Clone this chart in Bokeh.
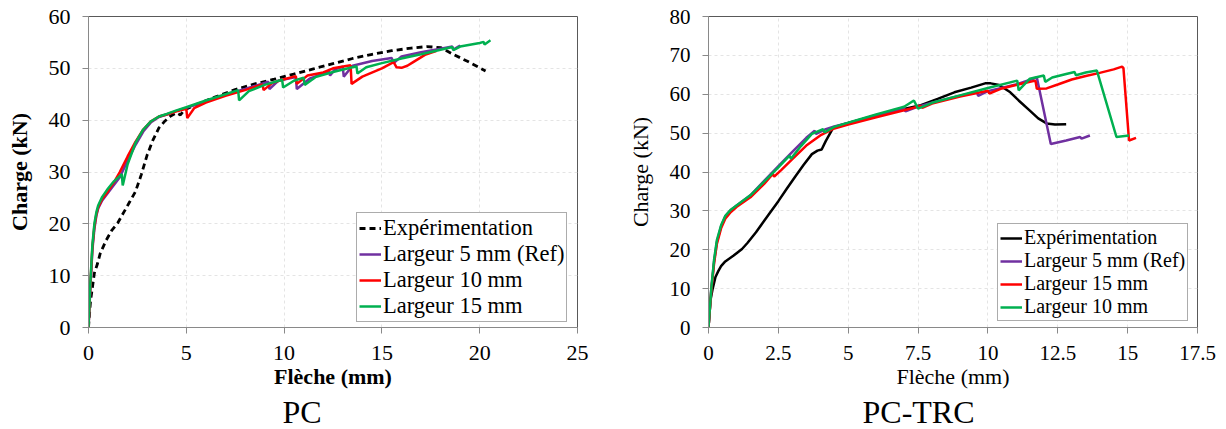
from bokeh.plotting import figure
from bokeh.models import Legend, LegendItem, Title, FixedTicker, Range1d, NumeralTickFormatter
from bokeh.layouts import row
from bokeh.embed import file_html
from bokeh.resources import INLINE

FONT = "Liberation Serif"

# ---------------- PC (left) ----------------
pc_xticks = [0, 5, 10, 15, 20, 25]
pc_yticks = [0, 10, 20, 30, 40, 50, 60]

pc_exp_x = [0, 0.1, 0.3, 0.45, 0.6, 0.9, 1.2, 1.5, 1.8, 2.1, 2.4, 2.7, 3.0, 3.3, 3.6, 3.9, 4.2, 4.5, 4.7, 4.9,
            5.5, 6.5, 7.5, 8.5, 9.5, 10.5, 11.5, 12.5, 13.5, 14.5, 15.5, 16.5, 17.3, 18.0, 18.6, 19.4, 20.3]
pc_exp_y = [0, 5, 10.5, 12.2, 14.3, 16.8, 18.8, 20.2, 22.2, 24.2, 26.2, 29.5, 33.3, 36.2, 38.5, 39.8, 40.8, 41.4, 41.0, 42.0,
            43.0, 44.5, 45.9, 47.0, 47.9, 48.9, 49.9, 50.9, 51.9, 52.7, 53.4, 53.9, 54.2, 54.0, 52.8, 51.3, 49.5]

pc_w5_x = [0, 0.1, 0.2, 0.3, 0.4, 0.5, 0.7, 1.0, 1.3, 1.6, 2.0, 2.4, 2.8, 3.2, 3.6, 4.0, 4.5, 5.0, 6.0, 7.0, 8.0,
           9.2, 9.25, 9.7, 10.6, 10.65, 11.3, 12.3, 12.35, 12.6, 13.0, 13.05, 13.5, 14.5, 15.5, 15.6, 16.0, 17.0,
           18.0, 18.6, 18.65, 19.0]
pc_w5_y = [0, 8, 15, 19, 21.5, 23, 24.5, 26, 27.5, 29, 32.2, 35.2, 37.8, 39.6, 40.6, 41.1, 41.8, 42.4, 43.6, 44.9, 46.0,
           47.4, 46.0, 47.6, 48.3, 46.0, 48.0, 49.4, 48.6, 49.8, 50.3, 48.4, 50.5, 51.4, 52.0, 51.0, 52.3, 53.1,
           53.8, 54.2, 53.6, 54.4]

pc_w10_x = [0, 0.1, 0.2, 0.3, 0.4, 0.5, 0.7, 1.0, 1.3, 1.6, 2.0, 2.4, 2.8, 3.2, 3.6, 4.0, 4.5, 5.0, 5.05, 5.4, 6.0,
            7.0, 8.0, 8.9, 8.95, 9.4, 10.0, 10.6, 10.65, 11.2, 12.0, 12.5, 13.4, 13.45, 14.0, 15.0, 15.6, 15.75,
            16.0, 16.3, 16.6, 17.2, 17.8]
pc_w10_y = [0, 8.5, 15.5, 19.5, 21.8, 23.2, 24.8, 26.3, 28, 30, 33, 35.8, 38.2, 39.8, 40.7, 41.1, 41.7, 42.2, 40.4, 42.3, 43.4,
            44.7, 45.8, 46.9, 45.8, 47.2, 47.9, 48.5, 47.0, 48.6, 49.2, 50.0, 50.6, 47.0, 48.4, 50.0, 51.2, 50.2,
            50.1, 50.5, 51.2, 52.6, 53.4]

pc_w15_x = [0, 0.1, 0.2, 0.3, 0.4, 0.5, 0.7, 1.0, 1.3, 1.7, 1.75, 2.0, 2.4, 2.8, 3.2, 3.6, 4.0, 4.5, 5.0, 6.0, 7.0,
            7.65, 7.7, 8.2, 9.0, 9.9, 9.95, 10.5, 11.0, 11.05, 11.6, 12.5, 13.7, 13.75, 14.2, 15.0, 16.0, 17.0,
            18.0, 18.6, 18.65, 19.0, 20.0, 20.2, 20.25, 20.55]
pc_w15_y = [0, 9, 16, 20, 22.2, 23.6, 25.2, 26.8, 28.2, 29.6, 27.4, 31.5, 35.6, 38.2, 39.8, 40.7, 41.2, 41.9, 42.5, 43.8, 45.0,
            45.8, 43.8, 45.6, 46.8, 47.8, 46.3, 47.6, 48.2, 46.8, 48.3, 49.3, 50.4, 49.0, 50.2, 51.0, 51.9, 52.7,
            53.6, 54.1, 53.5, 54.2, 54.9, 55.1, 54.6, 55.4]

# ---------------- PC-TRC (right) ----------------
trc_xticks = [0, 2.5, 5, 7.5, 10, 12.5, 15, 17.5]
trc_yticks = [0, 10, 20, 30, 40, 50, 60, 70, 80]

trc_exp_x = [0, 0.07, 0.15, 0.25, 0.35, 0.45, 0.6, 0.9, 1.2, 1.4, 1.7, 2.0, 2.2, 2.5, 2.8, 3.1, 3.4, 3.7, 3.9, 4.05,
             4.2, 4.45, 4.7, 5.2, 6.0, 7.0, 7.6, 8.2, 8.8, 9.4, 9.9, 10.1, 10.4, 10.8, 11.1, 11.5, 11.8, 12.1, 12.4, 12.8]
trc_exp_y = [0, 7, 10, 13, 14.5, 15.8, 17, 18.5, 20.2, 21.8, 24.5, 27.5, 29.5, 32.5, 35.7, 38.8, 41.8, 44.6, 45.5, 45.8,
             48, 51.2, 52, 53, 54.6, 56.2, 57.2, 58.8, 60.5, 61.7, 62.8, 62.8, 62.4, 60.5, 58.4, 55.8, 53.8, 52.5, 52.2, 52.3]

trc_w5_x = [0, 0.1, 0.2, 0.3, 0.45, 0.6, 0.8, 1.0, 1.5, 2.0, 2.5, 3.0, 3.5, 3.8, 3.85, 4.2, 4.5, 5.0, 6.0, 7.0,
            7.05, 7.5, 8.0, 9.0, 9.6, 9.65, 10.0, 11.0, 11.75, 12.25, 12.8, 13.3, 13.35, 13.65]
trc_w5_y = [0, 10, 17, 22, 26, 28.6, 30.2, 31.3, 34, 37.8, 41.5, 45.2, 48.8, 50.6, 49.8, 51, 51.7, 52.6, 54.5, 56.3,
            55.6, 56.8, 57.8, 59.6, 60.6, 59.6, 60.8, 62.5, 64.3, 47.2, 48.1, 49.0, 48.6, 49.4]

trc_w15_x = [0, 0.1, 0.2, 0.3, 0.45, 0.6, 0.8, 1.0, 1.5, 2.0, 2.3, 2.35, 2.6, 3.0, 3.5, 4.0, 4.5, 5.0, 6.0, 7.0,
             7.6, 7.65, 8.0, 9.0, 10.0, 10.05, 10.5, 11.0, 11.7, 11.75, 12.1, 12.5, 13.0, 13.5, 14.0, 14.5, 14.8,
             14.85, 15.05, 15.3]
trc_w15_y = [0, 9.5, 16.5, 21.5, 25.5, 28, 29.7, 31, 33.5, 37, 39.5, 38.8, 40.5, 43.3, 46.8, 49.4, 51.2, 52.2, 54.1, 55.9,
             57.0, 56.5, 57.6, 59.4, 60.9, 60.2, 61.5, 62.4, 63.5, 61.4, 61.5, 62.5, 63.8, 64.7, 65.5, 66.4, 67.1,
             66.7, 48.1, 48.8]

trc_w10_x = [0, 0.1, 0.2, 0.3, 0.45, 0.6, 0.8, 1.0, 1.5, 2.0, 2.5, 2.9, 2.95, 3.3, 3.7, 4.1, 4.15, 4.5, 5.0, 6.0,
             7.0, 7.35, 7.5, 8.0, 9.0, 10.0, 11.05, 11.1, 11.5, 12.0, 12.05, 12.3, 12.8, 13.1, 13.15, 13.5, 13.9,
             14.6, 15.05]
trc_w10_y = [0, 10, 17.5, 22.5, 26.3, 28.7, 30.3, 31.4, 34, 37.6, 41.2, 44.2, 43.4, 46.6, 49.8, 51.0, 50.2, 51.6, 52.7, 54.8,
             56.8, 58.4, 56.3, 57.8, 59.7, 61.6, 63.5, 61.0, 64.0, 64.8, 63.2, 64.3, 65.2, 65.7, 64.9, 65.6, 66.1,
             49.0, 49.4]

PURPLE = "#7030A0"
RED = "#FF0000"
GREEN = "#00B050"


def styled(width, xmax, ymax, xticks, yticks, min_left, min_right, bold, tick_size):
    p = figure(width=width, height=429, x_range=Range1d(0, xmax), y_range=Range1d(0, ymax),
               output_backend="svg", toolbar_location=None,
               min_border_left=min_left, min_border_right=min_right, min_border_top=16, min_border_bottom=102)
    p.outline_line_color = "#595959"
    p.outline_line_width = 1
    p.background_fill_color = "white"
    p.border_fill_color = "white"
    style = "bold" if bold else "normal"
    for ax in (p.xaxis[0], p.yaxis[0]):
        ax.axis_line_color = "#898989"
        ax.major_tick_line_color = "#898989"
        ax.major_tick_out = 6
        ax.major_tick_in = 0
        ax.minor_tick_line_color = None
        ax.major_label_text_font = FONT
        ax.major_label_text_font_size = tick_size
        ax.major_label_text_color = "black"
        ax.axis_label_text_font = FONT
        ax.axis_label_text_font_size = "22px"
        ax.axis_label_text_font_style = style
        ax.axis_label_text_color = "black"
    p.xaxis.ticker = FixedTicker(ticks=xticks)
    p.yaxis.ticker = FixedTicker(ticks=yticks)
    p.xaxis.formatter = NumeralTickFormatter(format="0.[0]")
    p.yaxis.formatter = NumeralTickFormatter(format="0")
    p.xaxis.major_label_standoff = 12
    p.yaxis.major_label_standoff = 12
    p.xaxis.axis_label_standoff = 1
    p.yaxis.axis_label_standoff = 14
    p.xaxis.axis_label = "Flèche (mm)"
    p.yaxis.axis_label = "Charge (kN)"
    p.grid.grid_line_color = "#e4e4e4"
    p.grid.grid_line_dash = "3 3"
    p.grid.grid_line_width = 1
    return p


def add_legend(p, items, loc, size):
    leg = Legend(items=items, location=loc, label_text_font=FONT, label_text_font_size=size,
                 label_text_color="black", border_line_color="#595959", border_line_width=1,
                 padding=2, spacing=0, margin=0, glyph_width=22, glyph_height=14, label_height=14,
                 label_standoff=2, background_fill_alpha=1.0)
    leg.label_text_line_height = 1.0
    p.add_layout(leg, "center")


# Left chart
p1 = styled(620, 25, 60, pc_xticks, pc_yticks, 88, 43, True, "22px")
r_exp = p1.line(pc_exp_x, pc_exp_y, line_color="black", line_width=2.8, line_dash="6 4")
r5 = p1.line(pc_w5_x, pc_w5_y, line_color=PURPLE, line_width=2.5)
r10 = p1.line(pc_w10_x, pc_w10_y, line_color=RED, line_width=2.5)
r15 = p1.line(pc_w15_x, pc_w15_y, line_color=GREEN, line_width=2.5)
add_legend(p1, [LegendItem(label="Expérimentation", renderers=[r_exp]),
                LegendItem(label="Largeur 5 mm (Ref)", renderers=[r5]),
                LegendItem(label="Largeur 10 mm", renderers=[r10]),
                LegendItem(label="Largeur 15 mm", renderers=[r15])], (268, 5), "22.5px")
p1.add_layout(Title(text="PC", align="left", offset=194, text_font=FONT, text_font_size="32px",
                    text_font_style="normal", text_color="black", standoff=0), "below")

# Right chart
p2 = styled(606, 17.5, 80, trc_xticks, trc_yticks, 88, 29, False, "21px")
q_exp = p2.line(trc_exp_x, trc_exp_y, line_color="black", line_width=2.5)
q5 = p2.line(trc_w5_x, trc_w5_y, line_color=PURPLE, line_width=2.5)
q15 = p2.line(trc_w15_x, trc_w15_y, line_color=RED, line_width=2.5)
q10 = p2.line(trc_w10_x, trc_w10_y, line_color=GREEN, line_width=2.5)
add_legend(p2, [LegendItem(label="Expérimentation", renderers=[q_exp]),
                LegendItem(label="Largeur 5 mm (Ref)", renderers=[q5]),
                LegendItem(label="Largeur 15 mm", renderers=[q15]),
                LegendItem(label="Largeur 10 mm", renderers=[q10])], (289, 6), "20px")
p2.add_layout(Title(text="PC-TRC", align="left", offset=154, text_font=FONT, text_font_size="32px",
                    text_font_style="normal", text_color="black", standoff=0), "below")

layout = row(p1, p2, spacing=0)
open("out.html", "w").write(file_html(layout, INLINE))
